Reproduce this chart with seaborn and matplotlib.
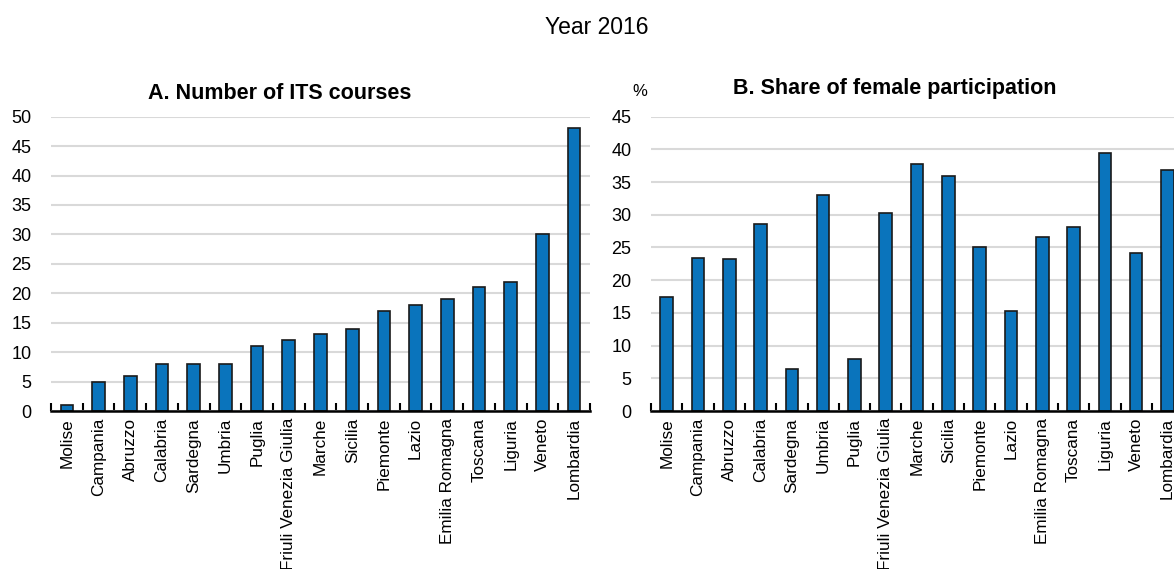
import matplotlib
matplotlib.use("Agg")
import matplotlib.pyplot as plt
from matplotlib.ticker import FixedLocator
import seaborn as sns

# data
regions_a = ["Molise", "Campania", "Abruzzo", "Calabria", "Sardegna", "Umbria",
             "Puglia", "Friuli Venezia Giulia", "Marche", "Sicilia", "Piemonte",
             "Lazio", "Emilia Romagna", "Toscana", "Liguria", "Veneto", "Lombardia"]
courses = [1, 5, 6, 8, 8, 8, 11, 12, 13, 14, 17, 18, 19, 21, 22, 30, 48]

regions_b = regions_a
female_share = [17.5, 23.4, 23.3, 28.6, 6.4, 33.0, 7.9, 30.3, 37.7, 36.0,
                25.1, 15.3, 26.6, 28.2, 39.5, 24.2, 36.8]

yticks_a = [0, 5, 10, 15, 20, 25, 30, 35, 40, 45, 50]
yticks_b = [0, 5, 10, 15, 20, 25, 30, 35, 40, 45]

BAR = "#0A74BC"
GRID = "#d9d9d9"

sns.set_style("white")
plt.rcParams["font.family"] = ["Liberation Sans", "DejaVu Sans"]
plt.rcParams["text.color"] = "black"
plt.rcParams["xtick.color"] = "black"
plt.rcParams["ytick.color"] = "black"

W, H = 1174, 569
fig = plt.figure(figsize=(W / 100, H / 100), dpi=100)


def px_axes(x0, x1, y_top, y_bot):
    return fig.add_axes([x0 / W, 1 - y_bot / H, (x1 - x0) / W, (y_bot - y_top) / H])


def style_axis(ax, cats, ticks):
    n = len(cats)
    ax.set_xlim(-0.5, n - 0.5)
    ax.set_ylim(ticks[0], ticks[-1])
    ax.set_yticks(ticks)
    ax.set_xticks(range(n))
    ax.set_xticklabels(cats, rotation=90, fontsize=12.3)
    ax.xaxis.set_minor_locator(FixedLocator([i - 0.5 for i in range(n + 1)]))
    ax.tick_params(axis="x", which="major", length=0, pad=5)
    ax.tick_params(axis="x", which="minor", direction="in", length=6,
                   width=1.5, color="black", bottom=True)
    ax.tick_params(axis="y", length=0, labelsize=13, pad=14)
    ax.yaxis.grid(True, color=GRID, linewidth=1.5)
    ax.set_axisbelow(True)
    for s in ["left", "right", "top"]:
        ax.spines[s].set_visible(False)
    ax.spines["bottom"].set_linewidth(1.8)
    ax.spines["bottom"].set_color("black")
    ax.set_xlabel("")
    ax.set_ylabel("")


ax_a = px_axes(51, 590, 116.7, 411)
sns.barplot(x=regions_a, y=courses, color=BAR, width=0.4, edgecolor="#1a1a1a",
            linewidth=1.2, saturation=1, ax=ax_a)
style_axis(ax_a, regions_a, yticks_a)

ax_b = px_axes(651, 651 + 17 * 31.3, 116.7, 411)
sns.barplot(x=regions_b, y=female_share, color=BAR, width=0.4, edgecolor="#1a1a1a",
            linewidth=1.2, saturation=1, ax=ax_b)
style_axis(ax_b, regions_b, yticks_b)

fig.text(597 / W, 1 - 28 / H, "Year 2016", ha="center", va="center", fontsize=16.5)
fig.text(280 / W, 1 - 99 / H, "A. Number of ITS courses", ha="center",
         va="baseline", fontsize=15.5, fontweight="bold")
fig.text(895 / W, 1 - 94 / H, "B. Share of female participation", ha="center",
         va="baseline", fontsize=15.5, fontweight="bold")
fig.text(640 / W, 1 - 92 / H, "%", ha="center", va="center", fontsize=12)

fig.savefig("out.png", dpi=100)
